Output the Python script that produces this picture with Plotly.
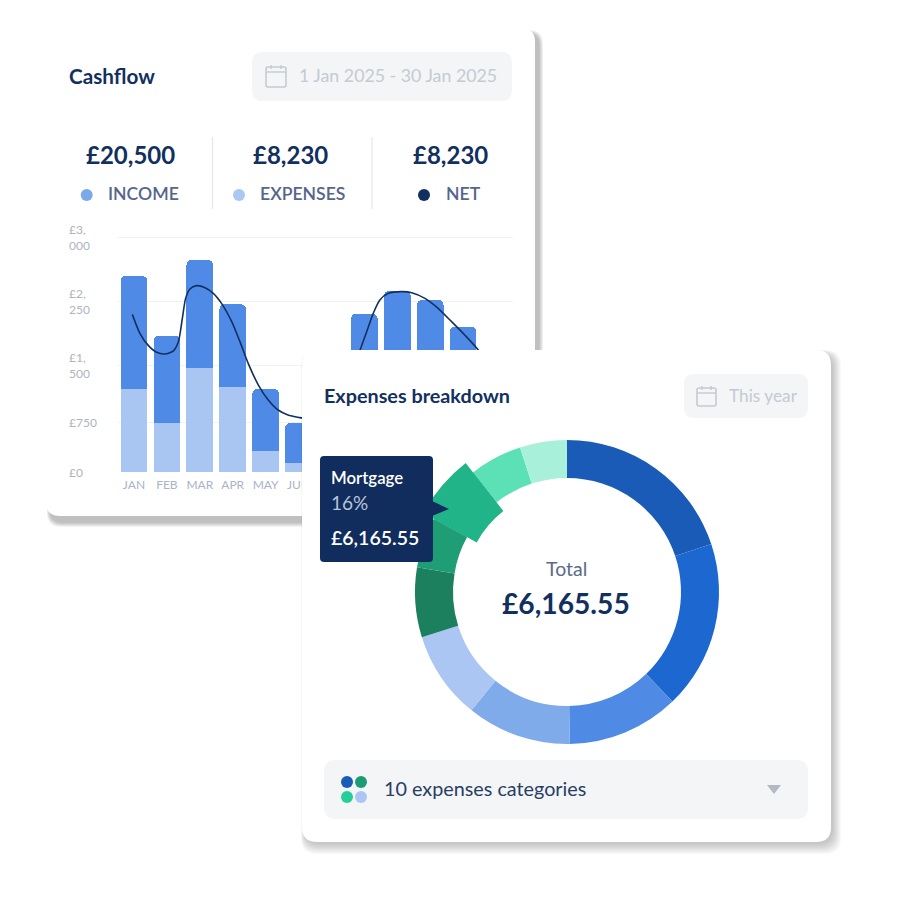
import plotly.graph_objects as go

# ---- data ----
months = ["JAN", "FEB", "MAR", "APR", "MAY", "JUN", "JUL", "AUG", "SEP", "OCT", "NOV", "DEC"]
visible_months = ["JAN", "FEB", "MAR", "APR", "MAY", "JUN"]
expenses = [1064, 628, 1333, 1090, 269, 115, 300, 900, 1100, 1000, 800, 500]
income = [1449, 1119, 1385, 1060, 795, 513, 600, 1129, 1220, 1205, 1063, 700]
# net curve (month position, value)
net_month = [-0.05, 0.18, 0.44, 0.69, 0.94, 1.19, 1.35, 1.47, 1.57, 1.70, 1.90, 2.16, 2.41, 2.66, 2.97,
             3.22, 3.47, 3.78, 4.08, 4.38, 4.68, 5.04, 5.6, 6.3,
             6.87, 7.07, 7.27, 7.47, 7.73, 8.13, 8.44, 8.84, 9.24, 9.65, 10.05, 10.46, 11.0]
net = [2021, 1778, 1620, 1534, 1513, 1551, 1671, 1970, 2226, 2346, 2389, 2363, 2291, 2162, 1927,
       1671, 1393, 1115, 923, 795, 731, 697, 660, 900,
       1564, 1799, 2034, 2205, 2291, 2312, 2299, 2226, 2098, 1927, 1756, 1564, 1200]
y_tick_vals = [0, 641, 1359, 2186, 3000]
y_tick_text = ["£0", "£750", "£1,<br>500", "£2,<br>250", "£3,<br>000"]

categories = ["Housing", "Bills", "Groceries", "Transport", "Leisure", "Insurance", "Savings",
              "Mortgage", "Health", "Other"]
shares = [19.9, 17.9, 11.9, 11.1, 9.4, 7.4, 5.4, 6.4, 5.6, 5.0]
slice_colors = ["#1a5bb7", "#1c68d0", "#4f8be5", "#7fabeb", "#abc6f2",
                "#1c7f5e", "#1f9d74", "#22b489", "#5ce0b5", "#a8f0da"]
highlight = "Mortgage"

NAVY = "#12305f"
OFF = 8
W = H = 884


def px(x):
    return (x - OFF) / W


def py(y):
    return 1 - (y - OFF) / H


def rr(x0, y0, x1, y1, r):
    return (f"M{x0+r},{y0} L{x1-r},{y0} Q{x1},{y0} {x1},{y0+r} L{x1},{y1-r} Q{x1},{y1} {x1-r},{y1} "
            f"L{x0+r},{y1} Q{x0},{y1} {x0},{y1-r} L{x0},{y0+r} Q{x0},{y0} {x0+r},{y0} Z")


def rr_paper(x0, y0, x1, y1, r):
    return (f"M{px(x0+r)},{py(y0)} L{px(x1-r)},{py(y0)} Q{px(x1)},{py(y0)} {px(x1)},{py(y0+r)} "
            f"L{px(x1)},{py(y1-r)} Q{px(x1)},{py(y1)} {px(x1-r)},{py(y1)} "
            f"L{px(x0+r)},{py(y1)} Q{px(x0)},{py(y1)} {px(x0)},{py(y1-r)} "
            f"L{px(x0)},{py(y0+r)} Q{px(x0)},{py(y0)} {px(x0+r)},{py(y0)} Z")


shapes = []


def lower(path, fill, line=None):
    shapes.append(dict(type="path", xref="paper", yref="paper", layer="below", path=path,
                       fillcolor=fill, line=dict(width=0)))


def second_card(path, fill):
    shapes.append(dict(type="path", xref="x2", yref="y2", layer="between", path=path,
                       fillcolor=fill, line=dict(width=0)))


def top(path, fill="rgba(0,0,0,0)", lc=None, lw=0):
    shapes.append(dict(type="path", xref="x2", yref="y2", layer="above", path=path,
                       fillcolor=fill, line=dict(width=lw, color=lc or "rgba(0,0,0,0)")))


def dot(cx, cy, r, color, ref="x2"):
    shapes.append(dict(type="circle", xref="x2", yref="y2", layer="above", x0=cx-r, x1=cx+r,
                       y0=cy-r, y1=cy+r, fillcolor=color, line=dict(width=0)))


def calendar(x0, y0, x1, y1):
    c = "#c5cad2"
    top(rr(x0, y0 + 2, x1, y1, 2), lc=c, lw=1.6)
    top(f"M{x0},{y0+7} L{x1},{y0+7}", lc=c, lw=1.4)
    top(f"M{x0+5},{y0} L{x0+5},{y0+4}", lc=c, lw=1.4)
    top(f"M{x1-5},{y0} L{x1-5},{y0+4}", lc=c, lw=1.4)


# first card with soft shadow
for i in range(7):
    lower(rr_paper(46 + 1 + i * 0.4, 28 + 2 + i * 0.4, 535 + 8 - i * 0.6, 516 + 11 - i * 0.7, 14),
          "rgba(60,60,60,0.05)")
lower(rr_paper(46, 28, 535, 516, 14), "#ffffff")
lower(rr_paper(252, 52, 512, 101, 11), "#f3f5f7")
for xv in (212.5, 372):
    shapes.append(dict(type="line", xref="paper", yref="paper", layer="below",
                       x0=px(xv), x1=px(xv), y0=py(137), y1=py(209),
                       line=dict(color="#e4e7eb", width=1.2)))

# second card with soft shadow, drawn in its own subplot so it sits over the bars
for i in range(10):
    second_card(rr(301 + i * 0.4, 350 + i * 0.4, 841 - i * 0.9, 854 - i * 1.1, 16),
                "rgba(60,60,60,0.032)")
second_card(rr(302, 350, 831, 842, 15), "#ffffff")

# controls and icons
top(rr(684, 374, 808, 418, 10), "#f3f5f7")
top(rr(324, 760, 808, 819, 12), "#f3f5f7")
calendar(266, 65, 286, 87)
calendar(697, 386, 716, 406)
dot(86.7, 195, 6, "#7aa9e9")
dot(239, 195, 6, "#abc8f2")
dot(424, 195, 6, NAVY)
dot(347, 782, 6, "#1a5bb7")
dot(361, 782, 6, "#1c9c74")
dot(347, 797, 6, "#25cf9a")
dot(361, 797, 6, "#abc6f2")
top("M767,785 L781,785 L774,794 Z", "#b4b9c3")

# tooltip
top(rr(320, 456, 433, 562, 4), "#112d5e")
top("M432,501 L449,509 L432,516 Z", "#112d5e")

SEMI = "Lato Semibold, Lato Medium, Lato"


def note(text, x, y, size, color, anchor="left", weight=400, family="Lato"):
    return dict(text=text, x=x - 2 if anchor == "left" else x, y=y - 1.2, xref="x2", yref="y2",
                xanchor=anchor, yanchor="middle",
                showarrow=False, font=dict(family=family, size=size, color=color, weight=weight))


annotations = [
    note("Cashflow", 69, 77, 20.7, NAVY, weight=700),
    note("1 Jan 2025 - 30 Jan 2025", 299, 76, 17.8, "#c5cad2"),
    note("£20,500", 130.5, 156, 24, NAVY, "center", 700),
    note("£8,230", 290, 156, 24, NAVY, "center", 700),
    note("£8,230", 450, 156, 24, NAVY, "center", 700),
    note("INCOME", 108, 195, 17.6, "#56658a", family=SEMI),
    note("EXPENSES", 260, 195, 17.6, "#56658a", family=SEMI),
    note("NET", 446, 195, 17.6, "#56658a", family=SEMI),
    note("Expenses breakdown", 324, 396, 19.8, NAVY, weight=700),
    note("This year", 729, 397, 17.3, "#c5cad2"),
    note("Total", 566, 570, 19.5, "#5a6b88", "center"),
    note("£6,165.55", 566, 604, 28.2, NAVY, "center", 700),
    note("Mortgage", 331, 479, 16.8, "#ffffff", family=SEMI),
    note("16%", 331, 504, 19, "#b8c4da"),
    note("£6,165.55", 331, 539, 19.5, "#ffffff", family=SEMI),
    note("10 expenses categories", 384, 789, 19.8, "#2a3d63"),
]
for v, t in zip(y_tick_vals, y_tick_text):
    annotations.append(dict(text=t, x=67, y=v, xref="x2", yref="y", xanchor="left", yanchor="middle",
                            align="left", showarrow=False,
                            font=dict(family="Lato", size=12, color="#aeb4c0")))

fig = go.Figure()
fig.add_bar(x=months, y=expenses, name="EXPENSES", marker=dict(color="#a9c6f3", line_width=0), hoverinfo="skip")
fig.add_bar(x=months, y=income, name="INCOME", marker=dict(color="#4f8ae6", line_width=0), hoverinfo="skip")
fig.add_scatter(x=net_month, y=net, xaxis="x3", yaxis="y", name="NET", mode="lines", hoverinfo="skip",
                line=dict(color=NAVY, width=1.6, shape="spline", smoothing=0.7))
fig.add_scatter(x=[None], y=[None], xaxis="x2", yaxis="y2", mode="lines", hoverinfo="skip")

CX, CY = 567, 592
R, R_IN = 152, 114
R2, R2_IN = 164, 103
fig.add_pie(labels=categories, values=shares, sort=False, direction="clockwise", rotation=0,
            hole=R_IN / R, textinfo="none", hoverinfo="skip",
            marker=dict(colors=slice_colors, line=dict(width=0)),
            domain=dict(x=[px(CX - R), px(CX + R)], y=[py(CY + R), py(CY - R)]))
fig.add_pie(labels=categories, values=shares, sort=False, direction="clockwise", rotation=0,
            hole=R2_IN / R2, textinfo="none", hoverinfo="skip",
            marker=dict(colors=[c if n == highlight else "rgba(0,0,0,0)"
                                for n, c in zip(categories, slice_colors)], line=dict(width=0)),
            domain=dict(x=[px(CX - R2), px(CX + R2)], y=[py(CY + R2), py(CY - R2)]))

Y_TOP = 3100
fig.update_layout(
    width=W, height=H, margin=dict(l=0, r=0, t=0, b=0), showlegend=False,
    paper_bgcolor="#ffffff", plot_bgcolor="rgba(0,0,0,0)",
    barmode="stack", bargap=0.19, barcornerradius=5,
    shapes=shapes, annotations=annotations,
    xaxis=dict(domain=[px(117.5), px(512.5)], type="category", categoryorder="array", categoryarray=months,
               tickmode="array", tickvals=visible_months, ticktext=visible_months,
               range=[-0.5, 11.5], showgrid=False, zeroline=False, showline=False, ticks="",
               ticklabelstandoff=4,
               tickfont=dict(family="Lato", size=12, color="#a9b3c9"), fixedrange=True),
    xaxis3=dict(overlaying="x", range=[-0.5, 11.5], type="linear", visible=False, anchor="y",
                domain=[px(117.5), px(512.5)], fixedrange=True),
    yaxis=dict(domain=[py(472), py(472 - Y_TOP / 12.82)], range=[0, Y_TOP], tickvals=y_tick_vals,
               showticklabels=False, showgrid=True, gridcolor="#f0f2f4", gridwidth=1, zeroline=False,
               showline=False, ticks="", fixedrange=True),
    xaxis2=dict(domain=[0, 1], range=[OFF, OFF + W], visible=False, anchor="y2", fixedrange=True),
    yaxis2=dict(domain=[0, 1], range=[OFF + H, OFF], visible=False, anchor="x2", fixedrange=True),
)
fig.write_html("out.html")
